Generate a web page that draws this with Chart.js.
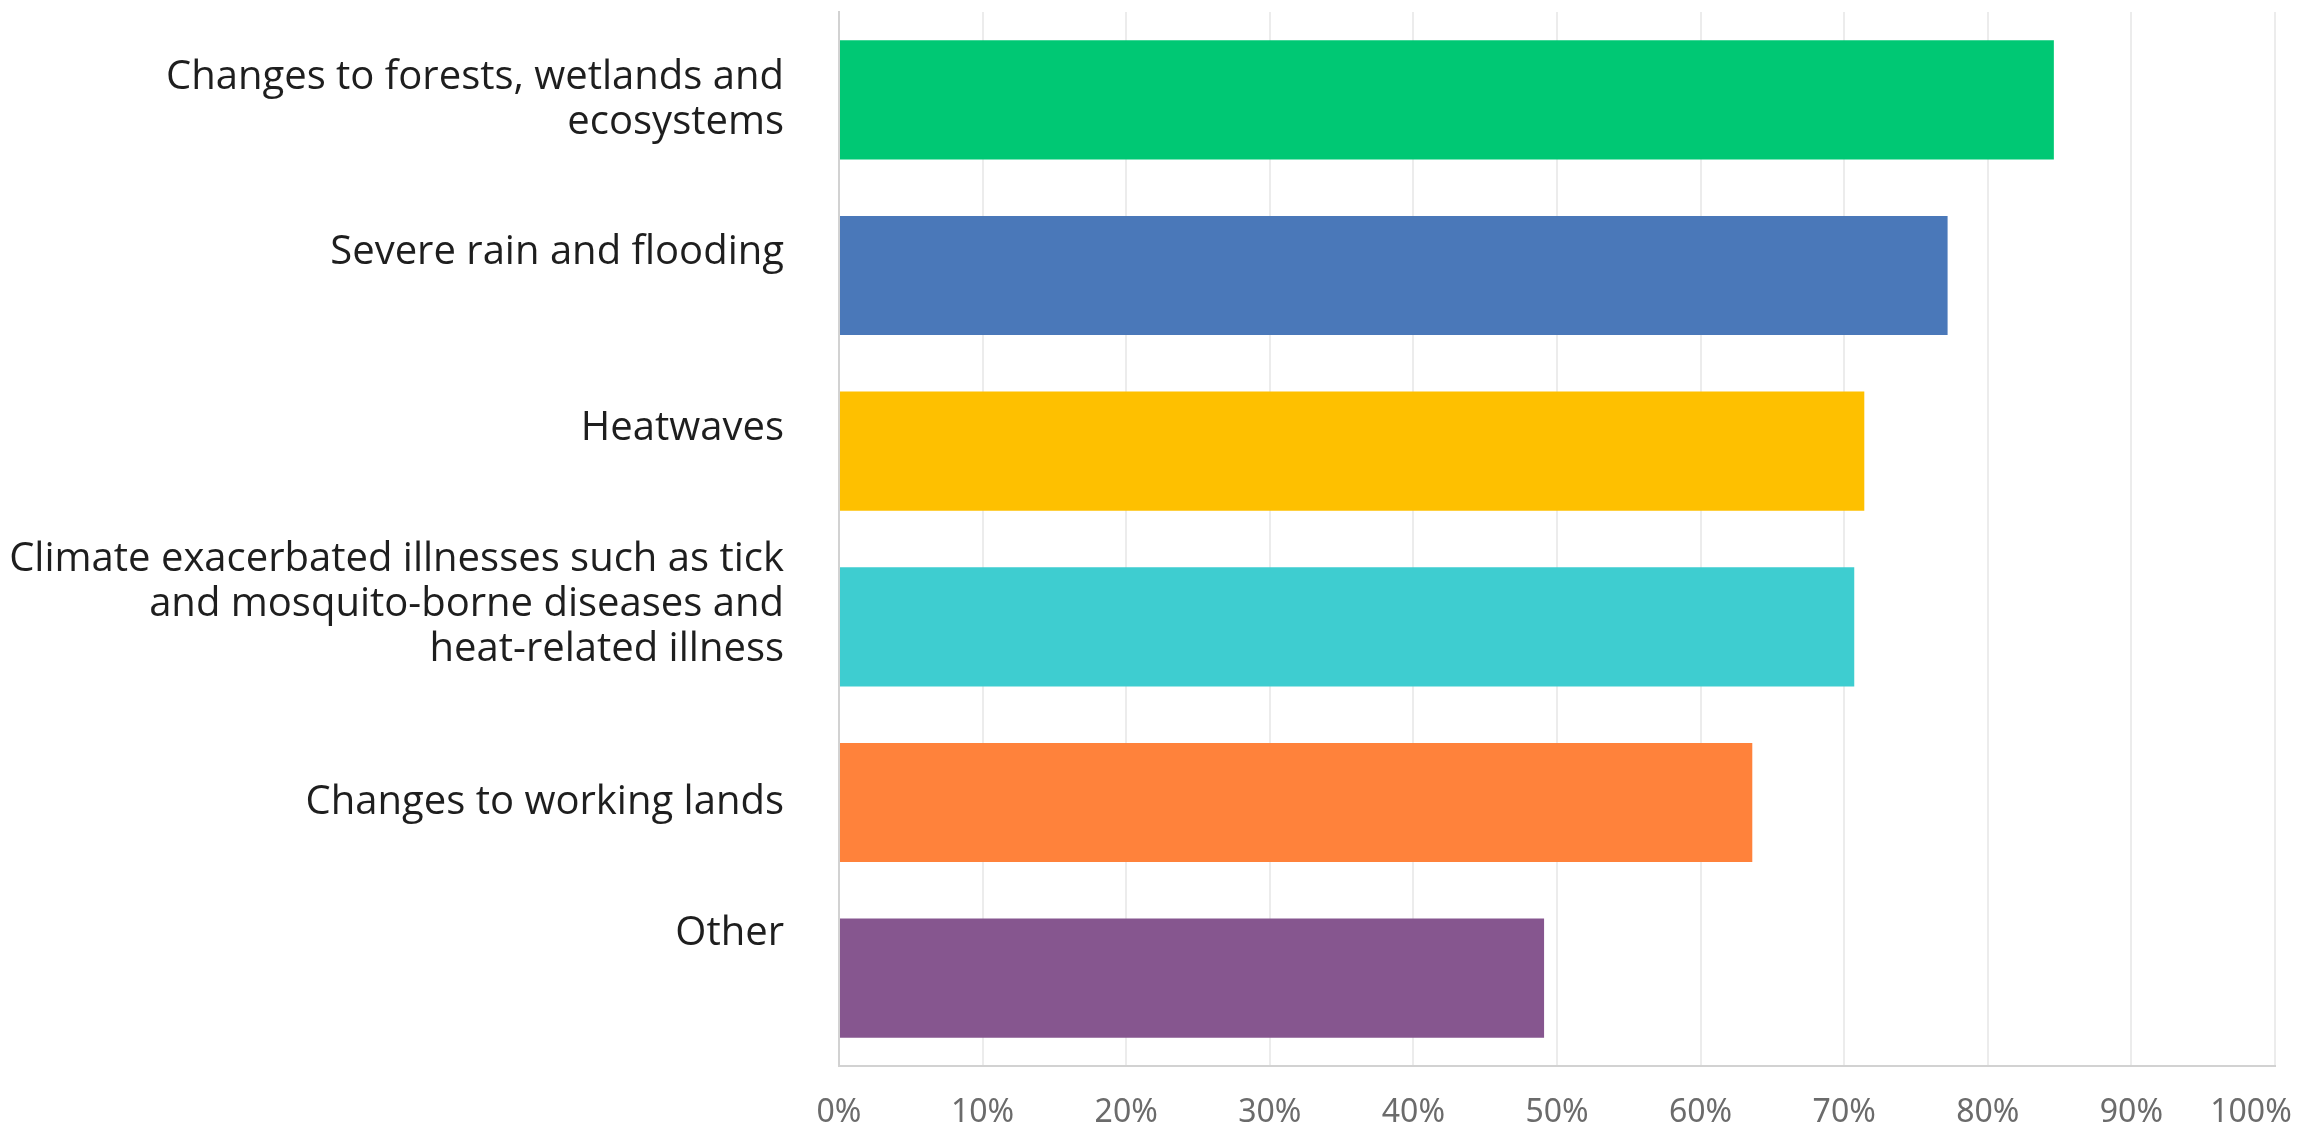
<!DOCTYPE html>
<html>
<head>
<meta charset="utf-8">
<script src="https://cdn.jsdelivr.net/npm/chart.js@4/dist/chart.umd.min.js"></script>
<style>
  html, body { margin: 0; padding: 0; background: #fff; overflow: hidden; }
  #wrap { width: 2305px; height: 1132px; }
</style>
</head>
<body>
<div id="wrap"><canvas id="myChart"></canvas></div>
<script>
// Data
const categories = [
    ['Changes to forests, wetlands and', 'ecosystems'],
    ['Severe rain and flooding'],
    ['Heatwaves'],
    ['Climate exacerbated illnesses such as tick', 'and mosquito-borne diseases and', 'heat-related illness'],
    ['Changes to working lands'],
    ['Other']
];
const responses = [84.6, 77.2, 71.4, 70.7, 63.6, 49.1];
const barColors = ['#00c874', '#4a78b9', '#fec000', '#3ecdd0', '#ff823b', '#86568f'];
const tickLabels = ['0%', '10%', '20%', '30%', '40%', '50%', '60%', '70%', '80%', '90%', '100%'];

// labels sit a little above their bar in the original, pad with empty lines
const extraLines = [0, 1, 1, 1, 0, 2];

const ctx = document.getElementById('myChart').getContext('2d');

new Chart(ctx, {
    type: 'bar',
    data: {
        labels: categories,
        datasets: [{
            data: responses,
            backgroundColor: barColors,
            borderWidth: 0,
            categoryPercentage: 1,
            barPercentage: 0.678
        }]
    },
    options: {
        indexAxis: 'y',
        responsive: true,
        maintainAspectRatio: false,
        animation: false,
        layout: { padding: { top: 12, right: 30, bottom: 0, left: 0 } },
        plugins: {
            legend: { display: false },
            tooltip: { enabled: false }
        },
        scales: {
            x: {
                min: 0,
                max: 100,
                ticks: {
                    stepSize: 10,
                    padding: 28,
                    color: '#6b6b6b',
                    font: { family: 'Noto Sans', size: 32 },
                    maxRotation: 0,
                    // last label is pushed left in the original so it fits the edge
                    callback: (v, i) => i === tickLabels.length - 1 ? tickLabels[i] + '\u2002\u2002\u2002' : tickLabels[i]
                },
                grid: { color: '#ececec', lineWidth: 2, drawTicks: false },
                border: { color: '#d2d2d2', width: 2 },
                afterFit: (scale) => {
                    scale.paddingLeft = 0;
                    scale.paddingRight = 0;
                    scale.height = 66;
                }
            },
            y: {
                ticks: {
                    autoSkip: false,
                    padding: 55,
                    color: '#1e1e1e',
                    font: { family: 'Open Sans', size: 40, lineHeight: 1.125 },
                    callback: (v, i) => categories[i].concat(Array(extraLines[i]).fill(''))
                },
                grid: { display: false, drawTicks: false },
                border: { color: '#d2d2d2', width: 2 },
                afterFit: (scale) => {
                    scale.width = 839;
                    scale.paddingTop = 0;
                    scale.paddingBottom = 0;
                }
            }
        }
    }
});
</script>
</body>
</html>
